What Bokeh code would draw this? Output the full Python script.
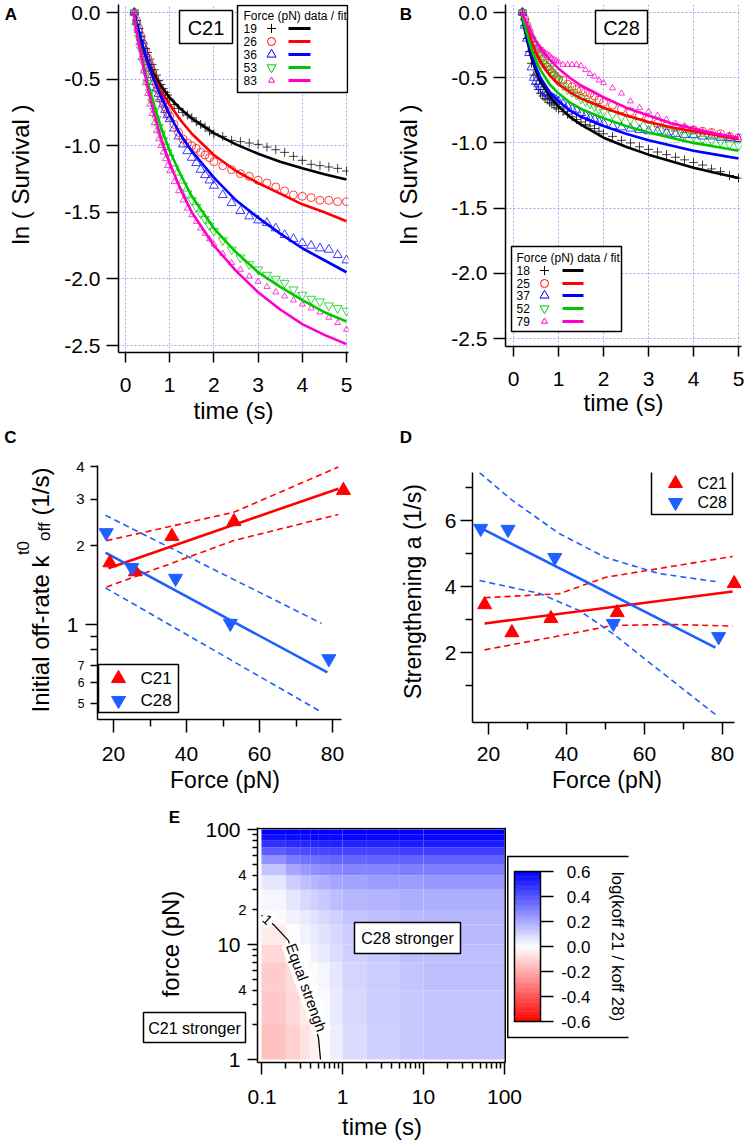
import math
from bokeh.plotting import figure
from bokeh.models import (Range1d, FixedTicker, BasicTickFormatter, PrintfTickFormatter,
                          CustomJSTickFormatter, Label, BoxAnnotation, LinearColorMapper,
                          ColumnDataSource)
from bokeh.layouts import row, column
from bokeh.embed import file_html
from bokeh.resources import INLINE

FONT = "Liberation Sans"

# ======================= DATA =======================
# Panels A / B : ln(Survival) vs time (s)
time_data = [0.2, 0.25, 0.3, 0.35, 0.4, 0.45, 0.5, 0.55, 0.6, 0.65, 0.7, 0.75, 0.8, 0.85, 0.9, 0.95,
             1.0, 1.1, 1.2, 1.3, 1.4, 1.5, 1.6, 1.7, 1.8, 1.9, 2.0,
             2.2, 2.4, 2.6, 2.8, 3.0, 3.2, 3.4, 3.6, 3.8, 4.0, 4.2, 4.4, 4.6, 4.8, 5.0]
time_fit = [0.18, 0.25, 0.3, 0.4, 0.5, 0.6, 0.8, 1.0, 1.25, 1.5, 2.0, 2.5, 3.0, 3.5, 4.0, 4.5, 5.0]

c21_force_labels = ["19", "26", "36", "53", "83"]
c21_s19 = [0, -0.06, -0.12, -0.18, -0.23, -0.27, -0.30, -0.35, -0.39, -0.43, -0.47, -0.51, -0.54, -0.57, -0.60, -0.62,
           -0.65, -0.69, -0.72, -0.75, -0.77, -0.79, -0.82, -0.84, -0.86, -0.89, -0.91,
           -0.93, -0.96, -0.97, -0.98, -0.99, -1.01, -1.03, -1.05, -1.08, -1.11, -1.14, -1.15, -1.16, -1.17, -1.19]
c21_s26 = [0, -0.06, -0.12, -0.18, -0.24, -0.29, -0.34, -0.39, -0.44, -0.49, -0.54, -0.58, -0.63, -0.67, -0.71, -0.75,
           -0.78, -0.84, -0.90, -0.95, -0.98, -1.00, -1.02, -1.05, -1.07, -1.09, -1.12,
           -1.15, -1.18, -1.21, -1.23, -1.26, -1.28, -1.31, -1.34, -1.37, -1.38, -1.39, -1.41, -1.41, -1.42, -1.42]
c21_s36 = [0, -0.07, -0.13, -0.19, -0.25, -0.31, -0.37, -0.42, -0.47, -0.52, -0.57, -0.61, -0.65, -0.69, -0.73, -0.77,
           -0.80, -0.87, -0.93, -0.99, -1.04, -1.09, -1.13, -1.18, -1.22, -1.26, -1.30,
           -1.37, -1.43, -1.49, -1.53, -1.56, -1.58, -1.62, -1.67, -1.70, -1.73, -1.75, -1.77, -1.78, -1.82, -1.86]
c21_s53 = [0, -0.10, -0.19, -0.28, -0.37, -0.45, -0.53, -0.60, -0.67, -0.74, -0.80, -0.86, -0.91, -0.96, -1.01, -1.05,
           -1.09, -1.17, -1.24, -1.30, -1.36, -1.41, -1.46, -1.51, -1.55, -1.60, -1.64,
           -1.71, -1.78, -1.84, -1.89, -1.93, -1.97, -2.00, -2.03, -2.08, -2.12, -2.15, -2.17, -2.20, -2.22, -2.24]
c21_s83 = [0, -0.12, -0.23, -0.34, -0.44, -0.53, -0.61, -0.69, -0.76, -0.83, -0.89, -0.95, -1.00, -1.05, -1.10, -1.15,
           -1.19, -1.27, -1.34, -1.41, -1.47, -1.52, -1.57, -1.62, -1.66, -1.70, -1.74,
           -1.81, -1.88, -1.93, -1.98, -2.02, -2.06, -2.10, -2.13, -2.16, -2.19, -2.22, -2.25, -2.29, -2.33, -2.38]
c21_fit19 = [0, -0.09, -0.166, -0.28, -0.37, -0.44, -0.55, -0.64, -0.725, -0.795, -0.905, -0.99, -1.06, -1.12, -1.17, -1.215, -1.254]
c21_fit26 = [0, -0.09, -0.16, -0.28, -0.38, -0.46, -0.59, -0.69, -0.81, -0.91, -1.07, -1.19, -1.28, -1.36, -1.44, -1.50, -1.567]
c21_fit36 = [0, -0.08, -0.14, -0.26, -0.37, -0.47, -0.63, -0.77, -0.92, -1.04, -1.24, -1.41, -1.54, -1.66, -1.77, -1.86, -1.95]
c21_fit53 = [0, -0.13, -0.22, -0.38, -0.52, -0.64, -0.86, -1.04, -1.22, -1.38, -1.62, -1.80, -1.95, -2.06, -2.16, -2.25, -2.32]
c21_fit83 = [0, -0.14, -0.24, -0.40, -0.56, -0.70, -0.94, -1.13, -1.33, -1.50, -1.75, -1.94, -2.10, -2.23, -2.34, -2.42, -2.49]

c28_force_labels = ["18", "25", "37", "52", "79"]
c28_s18 = [0, -0.10, -0.20, -0.30, -0.39, -0.48, -0.55, -0.59, -0.62, -0.64, -0.66, -0.67, -0.69, -0.70, -0.71, -0.73,
           -0.74, -0.76, -0.78, -0.80, -0.82, -0.84, -0.86, -0.87, -0.89, -0.91, -0.93,
           -0.95, -0.98, -1.00, -1.03, -1.05, -1.07, -1.09, -1.11, -1.13, -1.15, -1.17, -1.20, -1.22, -1.25, -1.27]
c28_s25 = [0, -0.05, -0.10, -0.15, -0.20, -0.24, -0.28, -0.31, -0.34, -0.37, -0.40, -0.42, -0.44, -0.46, -0.48, -0.50,
           -0.51, -0.52, -0.55, -0.57, -0.59, -0.60, -0.61, -0.62, -0.64, -0.67, -0.69,
           -0.71, -0.74, -0.76, -0.79, -0.82, -0.85, -0.87, -0.88, -0.89, -0.90, -0.91, -0.92, -0.93, -0.95, -0.96]
c28_s37 = [0, -0.10, -0.20, -0.31, -0.42, -0.50, -0.53, -0.55, -0.57, -0.59, -0.61, -0.62, -0.63, -0.65, -0.66, -0.67,
           -0.68, -0.70, -0.72, -0.74, -0.75, -0.77, -0.79, -0.81, -0.82, -0.84, -0.85,
           -0.87, -0.88, -0.89, -0.90, -0.91, -0.91, -0.92, -0.93, -0.94, -0.94, -0.95, -0.95, -0.96, -0.96, -0.97]
c28_s52 = [0, -0.07, -0.13, -0.18, -0.21, -0.24, -0.27, -0.29, -0.32, -0.35, -0.38, -0.41, -0.43, -0.46, -0.48, -0.51,
           -0.53, -0.56, -0.59, -0.61, -0.63, -0.66, -0.68, -0.70, -0.72, -0.74, -0.76,
           -0.78, -0.80, -0.82, -0.84, -0.86, -0.88, -0.90, -0.92, -0.94, -0.95, -0.97, -0.98, -0.99, -1.01, -1.02]
c28_s79 = [0, -0.04, -0.09, -0.13, -0.18, -0.21, -0.24, -0.26, -0.28, -0.29, -0.31, -0.32, -0.33, -0.35, -0.36, -0.37,
           -0.38, -0.40, -0.40, -0.40, -0.40, -0.41, -0.44, -0.47, -0.49, -0.52, -0.54,
           -0.58, -0.62, -0.68, -0.73, -0.76, -0.79, -0.82, -0.85, -0.87, -0.89, -0.91, -0.92, -0.94, -0.95, -0.96]
c28_fit18 = [0, -0.13, -0.21, -0.35, -0.45, -0.53, -0.64, -0.72, -0.80, -0.86, -0.96, -1.03, -1.09, -1.14, -1.19, -1.23, -1.27]
c28_fit25 = [0, -0.07, -0.12, -0.22, -0.31, -0.38, -0.48, -0.55, -0.61, -0.66, -0.73, -0.79, -0.84, -0.88, -0.91, -0.94, -0.97]
c28_fit37 = [0, -0.12, -0.19, -0.32, -0.42, -0.50, -0.61, -0.68, -0.75, -0.80, -0.87, -0.93, -0.98, -1.02, -1.06, -1.09, -1.12]
c28_fit52 = [0, -0.10, -0.16, -0.28, -0.37, -0.44, -0.55, -0.62, -0.69, -0.74, -0.81, -0.87, -0.92, -0.96, -1.00, -1.03, -1.06]
c28_fit79 = [0, -0.05, -0.09, -0.16, -0.22, -0.27, -0.36, -0.43, -0.50, -0.56, -0.65, -0.73, -0.79, -0.85, -0.89, -0.93, -0.96]

# Panels C / D : fitted parameters vs force (pN)
c21_force = [19, 26, 36, 53, 83]
c28_force = [18, 25, 37, 52, 79]
c21_koff = [1.72, 1.59, 2.17, 2.47, 3.25]
c28_koff = [2.24, 1.65, 1.50, 1.01, 0.74]
c21_koff_fit_f = [18.6, 81.6]
c21_koff_fit = [1.64, 3.30]
c21_koff_band_f = [18.1, 52.9, 81.6]
c21_koff_hi = [2.09, 2.68, 3.99]
c21_koff_lo = [1.39, 2.09, 2.63]
c28_koff_fit_f = [17.8, 78.6]
c28_koff_fit = [1.88, 0.656]
c28_koff_band_f = [17.8, 77.0]
c28_koff_hi = [2.61, 1.01]
c28_koff_lo = [1.38, 0.463]

c21_a = [3.45, 2.60, 3.03, 3.21, 4.09]
c28_a = [5.76, 5.73, 4.88, 2.88, 2.48]
c21_a_fit_f = [19.0, 82.6]
c21_a_fit = [2.88, 3.85]
c21_a_hi_f = [19.0, 38.1, 50.1, 65.5, 82.6]
c21_a_hi = [3.66, 3.78, 4.28, 4.58, 4.91]
c21_a_lo_f = [19.0, 41.5, 51.8, 67.2, 82.6]
c21_a_lo = [2.08, 2.58, 2.82, 2.85, 2.80]
c28_a_fit_f = [17.7, 78.2]
c28_a_fit = [5.79, 2.15]
c28_a_hi_f = [17.7, 26.2, 38.2, 50.0, 63.8, 78.2]
c28_a_hi = [7.45, 6.60, 5.60, 4.88, 4.39, 4.15]
c28_a_lo_f = [17.7, 33.1, 43.3, 51.8, 62.8, 78.2]
c28_a_lo = [4.18, 3.79, 3.27, 2.58, 1.55, 0.12]

# Panel E : log(koff21/koff28) map over time (s) x force (pN)
heat_t_edges = [0.1, 0.2, 0.3, 0.4, 0.5, 0.7, 1, 2, 5, 10, 100]
heat_f_edges = [1, 2, 4, 7, 10, 15, 20, 30, 40, 50, 60, 70, 80, 90, 100]
heat_log_ratio = [
    [-0.15, -0.11, -0.07, -0.035, 0.00, 0.04, 0.08, 0.11, 0.13, 0.14],
    [-0.13, -0.09, -0.05, -0.02, 0.01, 0.05, 0.09, 0.12, 0.13, 0.14],
    [-0.12, -0.08, -0.04, -0.01, 0.02, 0.06, 0.10, 0.12, 0.14, 0.15],
    [-0.09, -0.03, 0.00, 0.03, 0.05, 0.08, 0.11, 0.13, 0.15, 0.15],
    [-0.05, 0.00, 0.03, 0.05, 0.07, 0.09, 0.12, 0.14, 0.15, 0.16],
    [-0.01, 0.03, 0.05, 0.07, 0.09, 0.11, 0.14, 0.15, 0.16, 0.17],
    [0.02, 0.06, 0.09, 0.11, 0.13, 0.15, 0.17, 0.18, 0.19, 0.19],
    [0.06, 0.12, 0.15, 0.17, 0.19, 0.21, 0.22, 0.23, 0.23, 0.24],
    [0.14, 0.21, 0.24, 0.26, 0.27, 0.28, 0.29, 0.29, 0.30, 0.30],
    [0.26, 0.31, 0.33, 0.34, 0.35, 0.36, 0.36, 0.37, 0.37, 0.37],
    [0.38, 0.41, 0.42, 0.43, 0.43, 0.44, 0.44, 0.44, 0.45, 0.45],
    [0.48, 0.50, 0.51, 0.51, 0.52, 0.52, 0.52, 0.52, 0.53, 0.53],
    [0.56, 0.57, 0.57, 0.58, 0.58, 0.58, 0.58, 0.58, 0.58, 0.58],
    [0.60, 0.60, 0.60, 0.60, 0.60, 0.60, 0.60, 0.60, 0.60, 0.60],
]
equal_t = [0.1, 0.145, 0.215, 0.349, 0.505, 0.535]
equal_force = [18.0, 14.6, 10.8, 4.15, 1.55, 1.0]
cbar_ticks = [-0.6, -0.4, -0.2, 0.0, 0.2, 0.4, 0.6]

# ======================= STYLE =======================
BLACK, RED, BLUE, GREEN, MAG = "#000000", "#ff0000", "#0000ff", "#00c800", "#ff00cc"
BLUE2 = "#1e60ff"
GRID = "#a8a8f0"

# page-pixel -> data helpers for each panel (page origin = top-left of the layout)
A_x = lambda px: (px - 125.0) / 44.2
A_y = lambda py: -(py - 12.0) / 133.2
B_x = lambda px: (px - 513.0) / 45.0
B_y = lambda py: -(py - 12.0) / 130.4
C_x = lambda px: 20.0 + (px - 113.0) / 3.65
C_y = lambda py: 10 ** ((624.0 - py) / 262.0)
D_x = lambda px: 20.0 + (px - 488.0) / 3.9
D_y = lambda py: 2.0 + (652.0 - py) / 33.0
E_x = lambda px: 0.1 * 10 ** ((px - 261.0) / 81.0)
E_y = lambda py: 10 ** ((1059.0 - py) / 115.0)
IDENT = lambda v: v


def text(p, fx, fy, px, py, s, size, align="left", baseline="middle", angle=0.0,
         color="black", style="normal", bg=None, pad=0):
    kw = {}
    if bg is not None:
        kw["background_fill_color"] = bg
        kw["padding"] = pad
    p.add_layout(Label(x=fx(px), y=fy(py), text=s, text_font=FONT,
                       text_font_size=f"{size}px", text_align=align,
                       text_baseline=baseline, angle=angle, text_color=color,
                       text_font_style=style, **kw))


def box(p, fx, fy, x0, x1, y0, y1, fill="white", line="black", lw=1.5):
    p.add_layout(BoxAnnotation(left=fx(x0), right=fx(x1), top=fy(y0), bottom=fy(y1),
                               fill_color=fill, fill_alpha=1.0,
                               line_color=line, line_width=lw, line_alpha=1.0))


def style_axis(ax, ticks, minor=(), out=12, minor_out=0, size=21, standoff=6,
               label=None, lsize=24, lstandoff=10, bounds=None, fmt=None):
    ax.ticker = FixedTicker(ticks=list(ticks), minor_ticks=list(minor))
    ax.major_tick_out = out
    ax.major_tick_in = 0
    ax.minor_tick_out = minor_out
    ax.minor_tick_in = 0
    ax.axis_line_width = 1.5
    ax.axis_line_color = "black"
    ax.major_tick_line_width = 1.5
    ax.minor_tick_line_width = 1.5
    ax.major_label_text_font = FONT
    ax.major_label_text_font_size = f"{size}px"
    ax.major_label_text_color = "black"
    ax.major_label_standoff = standoff
    if label is not None:
        ax.axis_label = label
        ax.axis_label_text_font = FONT
        ax.axis_label_text_font_size = f"{lsize}px"
        ax.axis_label_text_font_style = "normal"
        ax.axis_label_text_color = "black"
        ax.axis_label_standoff = lstandoff
    if bounds is not None:
        ax.bounds = bounds
    if fmt is not None:
        ax.formatter = fmt


def base_fig(w, h, xr, yr, l, r, t, b, xt="linear", yt="linear"):
    p = figure(width=w, height=h, x_range=Range1d(*xr), y_range=Range1d(*yr),
               x_axis_type=xt, y_axis_type=yt, output_backend="svg",
               toolbar_location=None, min_border_left=l, min_border_right=r,
               min_border_top=t, min_border_bottom=b, frame_align=False)
    p.outline_line_color = None
    p.background_fill_color = "white"
    p.border_fill_color = "white"
    return p


def strip(w, h):
    """A text-only strip whose frame is the whole canvas (1 unit = 1 px, y downwards)."""
    s = figure(width=w, height=h, x_range=Range1d(0, w), y_range=Range1d(h, 0),
               x_axis_type=None, y_axis_type=None, output_backend="svg",
               toolbar_location=None, min_border_left=0, min_border_right=0,
               min_border_top=0, min_border_bottom=0, frame_align=False)
    s.outline_line_color = None
    return s


EMPTY = CustomJSTickFormatter(code="return ''")

# ======================= PANELS A / B =======================
MARKS = [("cross", 9, BLACK), ("circle", 8, RED), ("triangle", 9, BLUE),
         ("inverted_triangle", 9, GREEN), ("triangle", 6, MAG)]


def survival_panel(p, fx, fy, series, fits, labels, name, name_box, leg):
    style_axis(p.xaxis[0], [0, 1, 2, 3, 4, 5], out=10, standoff=leg["xs1"],
               label="time (s)", lsize=24, lstandoff=leg["xs2"])
    style_axis(p.yaxis[0], [-2.5, -2.0, -1.5, -1.0, -0.5, 0.0], out=12, standoff=6,
               fmt=PrintfTickFormatter(format="%.1f"))
    for g, tk in ((p.xgrid[0], [0, 1, 2, 3, 4, 5]), (p.ygrid[0], [-2.5, -2.0, -1.5, -1.0, -0.5, 0.0])):
        g.ticker = FixedTicker(ticks=tk)
        g.grid_line_color = GRID
        g.grid_line_dash = "2 2"
        g.grid_line_width = 1
    for (mk, sz, col), ys in zip(MARKS, series):
        p.scatter(time_data, ys, marker=mk, size=sz, fill_color=None,
                  line_color=col, line_alpha=0.75, line_width=1)
    for (mk, sz, col), ys in zip(MARKS, fits):
        p.line(time_fit, ys, line_color=col, line_width=2.6)
    x0, x1, y0, y1 = name_box
    box(p, fx, fy, x0, x1, y0, y1)
    text(p, fx, fy, (x0 + x1) / 2, (y0 + y1) / 2 + 1, name, 20, align="center")
    bx0, bx1, by0, by1 = leg["box"]
    box(p, fx, fy, bx0, bx1, by0, by1)
    text(p, fx, fy, leg["nx"], leg["ty"], "Force (pN) data / fit", 12)
    for i, ((mk, sz, col), lab) in enumerate(zip(MARKS, labels)):
        yy = leg["rows"][i]
        text(p, fx, fy, leg["nx"], yy, lab, 12)
        p.scatter([fx(leg["mx"])], [fy(yy)], marker=mk, size=sz, fill_color=None,
                  line_color=col, line_width=1, level="overlay")
        box(p, fx, fy, leg["lx0"], leg["lx1"], yy - 1.5, yy + 1.5, fill=col, line=None)


# row 1: page y 0..428
sA = strip(60, 428)            # page x 0..60
text(sA, IDENT, IDENT, 10.5, 14, "A", 17, align="center", style="bold")
text(sA, IDENT, IDENT, 20, 174, "ln ( Survival )", 24, align="center", angle=math.pi / 2)

pA = base_fig(312, 428, (A_x(118), A_x(348)), (A_y(352), A_y(4)), 58, 24, 4, 76)   # page x 60..372
survival_panel(pA, A_x, A_y, [c21_s19, c21_s26, c21_s36, c21_s53, c21_s83],
               [c21_fit19, c21_fit26, c21_fit36, c21_fit53, c21_fit83], c21_force_labels,
               "C21", (179, 232, 10, 43),
               dict(box=(237, 347, 5, 92), ty=15, rows=[28, 41, 54, 67, 80], nx=243, mx=271,
                    lx0=288, lx1=310, xs1=15, xs2=2))

sB = strip(58, 428)            # page x 372..430
text(sB, IDENT, IDENT, 33.5, 14, "B", 17, align="center", style="bold")
text(sB, IDENT, IDENT, 36, 174, "ln ( Survival )", 24, align="center", angle=math.pi / 2)

pB = base_fig(314, 428, (B_x(505), B_x(741)), (B_y(346), B_y(4)), 75, 3, 4, 82)    # page x 430..744
survival_panel(pB, B_x, B_y, [c28_s18, c28_s25, c28_s37, c28_s52, c28_s79],
               [c28_fit18, c28_fit25, c28_fit37, c28_fit52, c28_fit79], c28_force_labels,
               "C28", (595, 647, 10, 43),
               dict(box=(511, 621, 246, 331), ty=257, rows=[270, 283, 295, 308, 321], nx=516, mx=544,
                    lx0=562, lx1=583, xs1=15, xs2=0))

# ======================= PANEL C (row 2: page y 428..797) =======================
R2 = 428.0
sC = strip(85, 369)            # page x 0..85
text(sC, IDENT, IDENT, 10, 9, "C", 17, align="center", style="bold")
ang = math.pi / 2
text(sC, IDENT, IDENT, 39.5, 712 - R2, "Initial off-rate k", 24, baseline="alphabetic", angle=ang)
text(sC, IDENT, IDENT, 23, 554.6 - R2, "t0", 17, baseline="alphabetic", angle=ang)
text(sC, IDENT, IDENT, 44, 540.4 - R2, "off", 17, baseline="alphabetic", angle=ang)
text(sC, IDENT, IDENT, 39.5, 515.0 - R2, "(1/s)", 24, baseline="alphabetic", angle=ang)
c_pix = lambda v: 624.0 - 262.0 * math.log10(v) - R2
text(sC, IDENT, IDENT, 78, c_pix(1), "1", 21, align="right")
for v in (2, 3, 4):
    text(sC, IDENT, IDENT, 84, c_pix(v), str(v), 15, align="right")
for v, s in ((0.5, "5"), (0.6, "6"), (0.7, "7")):
    text(sC, IDENT, IDENT, 84, c_pix(v), s, 12, align="right")

pC = base_fig(287, 369, (C_x(97), C_x(352)), (C_y(719), C_y(465)), 12, 20, 37, 78, yt="log")  # page x 85..372
pC.xgrid.grid_line_color = None
pC.ygrid.grid_line_color = None
style_axis(pC.xaxis[0], [20, 40, 60, 80], minor=[30, 50, 70], out=13, minor_out=7, standoff=14,
           label="Force (pN)", lsize=23, lstandoff=3, bounds=(C_x(97), 82.5))
style_axis(pC.yaxis[0], [1], minor=[0.5, 0.6, 0.7, 0.8, 0.9, 2, 3, 4], out=12, minor_out=7,
           standoff=0, fmt=EMPTY)
pC.line(c21_koff_band_f, c21_koff_hi, line_color=RED, line_width=1.6, line_dash="6 4")
pC.line(c21_koff_band_f, c21_koff_lo, line_color=RED, line_width=1.6, line_dash="6 4")
pC.line(c28_koff_band_f, c28_koff_hi, line_color=BLUE2, line_width=1.6, line_dash="6 4")
pC.line(c28_koff_band_f, c28_koff_lo, line_color=BLUE2, line_width=1.6, line_dash="6 4")
pC.line(c21_koff_fit_f, c21_koff_fit, line_color=RED, line_width=2.6)
pC.line(c28_koff_fit_f, c28_koff_fit, line_color=BLUE2, line_width=2.6)
pC.scatter(c21_force, c21_koff, marker="triangle", size=14, fill_color=RED, line_color=RED)
pC.scatter(c28_force, c28_koff, marker="inverted_triangle", size=14, fill_color=BLUE2, line_color=BLUE2)
box(pC, C_x, C_y, 98, 178, 664, 712)
pC.scatter([C_x(118)], [C_y(678)], marker="triangle", size=14, fill_color=RED, line_color=RED, level="overlay")
pC.scatter([C_x(118)], [C_y(700)], marker="inverted_triangle", size=14, fill_color=BLUE2, line_color=BLUE2, level="overlay")
text(pC, C_x, C_y, 140, 678, "C21", 17)
text(pC, C_x, C_y, 140, 700, "C28", 17)

# ======================= PANEL D =======================
sD = strip(58, 369)            # page x 372..430
text(sD, IDENT, IDENT, 33.5, 9, "D", 17, align="center", style="bold")
text(sD, IDENT, IDENT, 40, 591 - R2, "Strengthening a (1/s)", 23, align="center", angle=math.pi / 2)

pD = base_fig(314, 369, (D_x(472), D_x(741)), (D_y(722), D_y(472)), 42, 3, 44, 75)   # page x 430..744
pD.xgrid.grid_line_color = None
pD.ygrid.grid_line_color = None
style_axis(pD.xaxis[0], [20, 40, 60, 80], minor=[30, 50, 70], out=12, minor_out=7, standoff=12,
           label="Force (pN)", lsize=23, lstandoff=3, bounds=(D_x(472), 83.0))
style_axis(pD.yaxis[0], [2, 4, 6], minor=[1, 3, 5, 7], out=12, minor_out=7, standoff=4)
pD.line(c21_a_hi_f, c21_a_hi, line_color=RED, line_width=1.6, line_dash="6 4")
pD.line(c21_a_lo_f, c21_a_lo, line_color=RED, line_width=1.6, line_dash="6 4")
pD.line(c28_a_hi_f, c28_a_hi, line_color=BLUE2, line_width=1.6, line_dash="6 4")
pD.line(c28_a_lo_f, c28_a_lo, line_color=BLUE2, line_width=1.6, line_dash="6 4")
pD.line(c21_a_fit_f, c21_a_fit, line_color=RED, line_width=2.6)
pD.line(c28_a_fit_f, c28_a_fit, line_color=BLUE2, line_width=2.6)
pD.scatter(c21_force, c21_a, marker="triangle", size=14, fill_color=RED, line_color=RED)
pD.scatter(c28_force, c28_a, marker="inverted_triangle", size=14, fill_color=BLUE2, line_color=BLUE2)
box(pD, D_x, D_y, 651, 732, 468, 514)
pD.scatter([D_x(675)], [D_y(483)], marker="triangle", size=14, fill_color=RED, line_color=RED, level="overlay")
pD.scatter([D_x(675)], [D_y(502)], marker="inverted_triangle", size=14, fill_color=BLUE2, line_color=BLUE2, level="overlay")
text(pD, D_x, D_y, 697, 483, "C21", 16)
text(pD, D_x, D_y, 697, 502, "C28", 16)

# ======================= PANEL E (row 3: page y 797..1112, title strip 1112..1141) =======================
R3 = 797.0
sE = strip(247, 315)           # page x 0..247
text(sE, IDENT, IDENT, 174, 20, "E", 17, align="center", style="bold")
text(sE, IDENT, IDENT, 170, 943.5 - R3, "force (pN)", 24, align="center", angle=math.pi / 2)
e_pix = lambda v: 1059.0 - 115.0 * math.log10(v) - R3
for v in (1, 10, 100):
    text(sE, IDENT, IDENT, 240, e_pix(v), str(v), 21, align="right")
for v, s in ((4, "4"), (20, "2"), (40, "4")):
    text(sE, IDENT, IDENT, 246, e_pix(v), s, 15, align="right")
box(sE, IDENT, IDENT, 143, 245, 1012 - R3, 1042 - R3)
text(sE, IDENT, IDENT, 194, 1028 - R3, "C21 stronger", 16, align="center")

pE = base_fig(497, 315, (E_x(257), E_x(740)), (E_y(1062), E_y(827)), 10, 4, 30, 50, xt="log", yt="log")  # page x 247..744
pE.xgrid.grid_line_color = None
pE.ygrid.grid_line_color = None
minor_x = [0.2, 0.3, 0.4, 0.5, 0.6, 0.7, 0.8, 0.9, 2, 3, 4, 5, 6, 7, 8, 9, 20, 30, 40, 50, 60, 70, 80, 90]
minor_y = [2, 3, 4, 5, 6, 7, 8, 9, 20, 30, 40, 50, 60, 70, 80, 90]
style_axis(pE.xaxis[0], [0.1, 1, 10, 100], minor=minor_x, out=12, minor_out=6, standoff=15,
           fmt=BasicTickFormatter(), bounds=(E_x(257), E_x(505)))
style_axis(pE.yaxis[0], [1, 10, 100], minor=minor_y, out=10, minor_out=5, standoff=0, fmt=EMPTY)

PALETTE = []
for i in range(256):
    f = i / 255.0
    if f < 0.5:
        g = int(round(255 * f / 0.5))
        PALETTE.append("#ff%02x%02x" % (g, g))
    else:
        g = int(round(255 * (1 - (f - 0.5) / 0.5)))
        PALETTE.append("#%02x%02xff" % (g, g))
mapper = LinearColorMapper(palette=PALETTE, low=-0.6, high=0.6)

cells = dict(left=[], right=[], bottom=[], top=[], val=[])
for j in range(len(heat_f_edges) - 1):
    for i in range(len(heat_t_edges) - 1):
        cells["left"].append(heat_t_edges[i])
        cells["right"].append(heat_t_edges[i + 1])
        cells["bottom"].append(heat_f_edges[j])
        cells["top"].append(heat_f_edges[j + 1])
        cells["val"].append(heat_log_ratio[j][i])
pE.quad(left="left", right="right", bottom="bottom", top="top", source=ColumnDataSource(cells),
        fill_color={"field": "val", "transform": mapper}, line_color=None)
pE.line(equal_t, equal_force, line_color="black", line_width=1.3)
# frame lines (top, right) of the map
box(pE, E_x, E_y, 257, 505.5, 827.2, 828.7, fill="black", line=None)
box(pE, E_x, E_y, 504.0, 505.5, 827.2, 1062, fill="black", line=None)
text(pE, E_x, E_y, 306, 987, "Equal strengh", 15, align="center", angle=-1.225, bg="white", pad=1)
text(pE, E_x, E_y, 267, 919, "1", 14, align="center", angle=-0.75, bg="white", pad=2)
box(pE, E_x, E_y, 354, 460, 922, 953)
text(pE, E_x, E_y, 407, 938, "C28 stronger", 16, align="center")

# colour scale (same mapper), drawn beside the map
cb_top, cb_bot = 871.0, 1021.0
nstrip = 60
cb = dict(left=[], right=[], bottom=[], top=[], val=[])
for k in range(nstrip):
    v = -0.6 + 1.2 * (k + 0.5) / nstrip
    ylo = cb_bot - (cb_bot - cb_top) * k / nstrip
    yhi = cb_bot - (cb_bot - cb_top) * (k + 1) / nstrip
    cb["left"].append(E_x(514))
    cb["right"].append(E_x(540))
    cb["bottom"].append(E_y(ylo + 0.3))
    cb["top"].append(E_y(yhi - 0.3))
    cb["val"].append(v)
pE.quad(left="left", right="right", bottom="bottom", top="top", source=ColumnDataSource(cb),
        fill_color={"field": "val", "transform": mapper}, line_color=None)
box(pE, E_x, E_y, 514, 540, cb_top, cb_bot, fill=None, line="black", lw=1.5)
for v in cbar_ticks:
    yy = cb_bot - (v + 0.6) / 1.2 * (cb_bot - cb_top)
    box(pE, E_x, E_y, 540, 553, yy - 0.75, yy + 0.75, fill="black", line=None)
    text(pE, E_x, E_y, 590, yy, "%.1f" % v, 17, align="right")
text(pE, E_x, E_y, 617, 946, "log(koff 21 / koff 28)", 17, align="center", angle=-math.pi / 2)
box(pE, E_x, E_y, 506.5, 628, 855.3, 856.8, fill="black", line=None)
box(pE, E_x, E_y, 506.5, 628, 1036.3, 1037.8, fill="black", line=None)
box(pE, E_x, E_y, 506.5, 508.0, 856, 1037.5, fill="black", line=None)

sEx = strip(744, 29)           # page y 1112..1141 : x-axis title of panel E
text(sEx, IDENT, IDENT, 381.5, 14, "time (s)", 24, align="center")

layout = column(row(sA, pA, sB, pB), row(sC, pC, sD, pD), row(sE, pE), sEx)
open("out.html", "w").write(file_html(layout, INLINE, title="Force dependence of C21 and C28"))
